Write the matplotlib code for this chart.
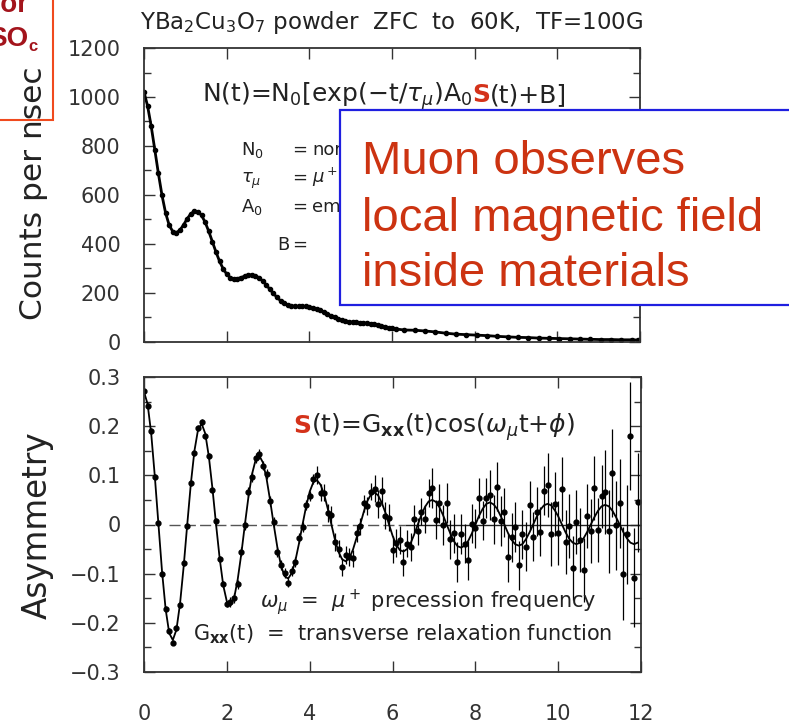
import numpy as np
import matplotlib.pyplot as plt
from matplotlib.patches import Rectangle
from matplotlib.ticker import FixedLocator, MultipleLocator
from matplotlib.transforms import IdentityTransform

# histogram bin width (µs) of both spectra
bin_width = 0.087

# top panel: counts per nsec, one value per bin up to ~6 µs
counts = [1021, 963, 881, 785, 688, 599, 527, 477,
          451, 446, 457, 478, 503, 523, 534, 532,
          517, 489, 452, 410, 368, 330, 299, 277,
          263, 258, 259, 263, 269, 274, 274, 271,
          262, 249, 233, 215, 198, 182, 168, 158,
          151, 147, 146, 145, 145, 145, 143, 140,
          136, 129, 122, 115, 107, 100, 94, 89,
          86, 83, 81, 80, 79, 78, 77, 75,
          73, 70, 66, 63, 59, 56, 53]
# coarser tail of the counts
tail_t = [6.3, 6.55, 6.8, 7.05, 7.3, 7.55, 7.8, 8.05, 8.3, 8.55, 8.8, 9.05,
          9.3, 9.55, 9.8, 10.05, 10.3, 10.55, 10.8, 11.05, 11.3, 11.55, 11.8, 11.95]
tail_counts = [49, 48, 45, 41, 36, 32, 30, 28, 26, 23, 21, 19,
               18, 16, 15, 14, 13, 12, 11, 10, 10, 9, 9, 8]

# bottom panel: asymmetry data, errors and fit
asym = [0.272, 0.242, 0.190, 0.097, 0.003, -0.101, -0.172, -0.217,
        -0.240, -0.211, -0.163, -0.079, -0.003, 0.084, 0.145, 0.197,
        0.209, 0.179, 0.139, 0.070, 0.007, -0.071, -0.121, -0.162,
        -0.158, -0.149, -0.122, -0.055, -0.002, 0.066, 0.097, 0.135,
        0.143, 0.120, 0.103, 0.047, 0.005, -0.056, -0.082, -0.098,
        -0.118, -0.095, -0.077, -0.028, -0.005, 0.039, 0.058, 0.092,
        0.101, 0.065, 0.065, 0.023, 0.020, -0.036, -0.049, -0.086,
        -0.062, -0.066, -0.069, -0.018, -0.004, 0.043, 0.037, 0.067,
        0.073, 0.042, 0.069, 0.018, 0.014, -0.051, -0.038, -0.032,
        -0.077, -0.039, -0.046, 0.011, -0.014, 0.026, 0.011, 0.064,
        0.074, 0.010, 0.043, -0.001, 0.044, -0.030, -0.018, -0.076,
        -0.019, -0.039, -0.073, 0.002, -0.008, 0.054, 0.008, 0.054,
        0.060, 0.011, 0.077, 0.007, 0.025, -0.067, -0.026, -0.005,
        -0.083, -0.020, -0.045, 0.039, -0.025, 0.026, -0.015, 0.069,
        0.081, -0.020, 0.042, -0.017, 0.072, -0.035, -0.003, -0.089,
        0.006, -0.031, -0.093, 0.017, -0.013, 0.074, -0.011, 0.057,
        0.066, -0.014, 0.105, -0.002, 0.043, -0.100, -0.020, 0.180,
        -0.108, 0.045]
asym_err = ([0.006] * 24 + [0.010] * 24 + [0.018] * 16 + [0.028] * 16 +
            [0.040] * 16 + [0.050] * 16 + [0.065] * 16 +
            [0.085, 0.085, 0.09, 0.09, 0.09, 0.095, 0.1, 0.11, 0.1, 0.1])
asym_fit = [0.270, 0.245, 0.185, 0.098, 0.000, -0.095, -0.172, -0.221,
            -0.235, -0.214, -0.161, -0.086, 0.000, 0.083, 0.150, 0.193,
            0.205, 0.185, 0.138, 0.073, 0.000, -0.069, -0.124, -0.157,
            -0.165, -0.150, -0.112, -0.060, 0.000, 0.057, 0.103, 0.132,
            0.140, 0.126, 0.094, 0.049, 0.000, -0.046, -0.083, -0.105,
            -0.110, -0.099, -0.074, -0.039, 0.000, 0.037, 0.067, 0.086,
            0.090, 0.081, 0.061, 0.032, 0.000, -0.031, -0.056, -0.071,
            -0.075, -0.068, -0.051, -0.027, 0.000, 0.026, 0.048, 0.061,
            0.065, 0.059, 0.044, 0.024, 0.000, -0.023, -0.041, -0.052,
            -0.055, -0.050, -0.038, -0.020, 0.000, 0.020, 0.036, 0.047,
            0.050, 0.046, 0.035, 0.019, 0.000, -0.018, -0.034, -0.044,
            -0.047, -0.043, -0.033, -0.018, 0.000, 0.018, 0.032, 0.042,
            0.045, 0.041, 0.032, 0.017, 0.000, -0.017, -0.031, -0.040,
            -0.043, -0.040, -0.030, -0.016, 0.000, 0.016, 0.030, 0.039,
            0.042, 0.039, 0.029, 0.016, 0.000, -0.016, -0.029, -0.037,
            -0.040, -0.037, -0.028, -0.015, 0.000, 0.015, 0.028, 0.037,
            0.040, 0.037, 0.028, 0.015, 0.000, -0.015, -0.028, -0.037,
            -0.040, -0.037]

x_ticks = [0, 2, 4, 6, 8, 10, 12]
count_ticks = [0, 200, 400, 600, 800, 1000, 1200]
asym_ticks = [-0.3, -0.2, -0.1, 0, 0.1, 0.2, 0.3]
asym_labels = ['\u22120.3', '\u22120.2', '\u22120.1', '0', '0.1', '0.2', '0.3']

t_counts = np.concatenate([np.arange(len(counts)) * bin_width, tail_t])
n_counts = np.concatenate([counts, tail_counts])
t_asym = np.arange(len(asym)) * bin_width

plt.rcParams['font.family'] = ['DejaVu Sans']
plt.rcParams['mathtext.fontset'] = 'dejavusans'

W, H = 789, 725
ink = '#222222'
red = '#d4321a'
fig = plt.figure(figsize=(W / 100, H / 100), dpi=100)


def px_axes(x0, y0, x1, y1):
    return fig.add_axes([x0 / W, 1 - y1 / H, (x1 - x0) / W, (y1 - y0) / H])


ax1 = px_axes(144, 48, 640, 342)
ax2 = px_axes(144, 377, 641, 672)

for ax in (ax1, ax2):
    ax.set_xlim(0, 12)
    ax.xaxis.set_major_locator(FixedLocator(x_ticks))
    ax.tick_params(which='both', direction='in', top=True, right=True,
                   colors='#333333', labelsize=15, width=1)
    ax.tick_params(which='major', length=8)
    ax.tick_params(which='minor', length=5)
    ax.tick_params(axis='y', pad=17)
    ax.tick_params(axis='x', pad=23)
    for s in ax.spines.values():
        s.set_linewidth(1.3)
        s.set_color('#333333')

# top: counts
ax1.plot(t_counts, n_counts, color='k', lw=2)
ax1.plot(t_counts, n_counts, 'o', ms=3, color='k')
ax1.set_ylim(0, 1200)
ax1.set_yticks(count_ticks)
ax1.yaxis.set_minor_locator(MultipleLocator(100))
ax1.tick_params(axis='x', labelbottom=False)

# bottom: asymmetry
ax2.hlines(0, 0.6, 6.3, color='#555555', lw=1, linestyles=(0, (8, 3)))
ax2.hlines(0, 6.3, 12, color=ink, lw=1)
ax2.errorbar(t_asym, asym, yerr=asym_err, fmt='o', ms=3.5, color='k',
             elinewidth=0.9, capsize=0)
ax2.plot(t_asym, asym_fit, color='k', lw=1.3)
ax2.set_ylim(-0.3, 0.3)
ax2.set_yticks(asym_ticks)
ax2.set_yticklabels(asym_labels)
ax2.yaxis.set_minor_locator(MultipleLocator(0.05))

fig.text(34 / W, 1 - 193 / H, 'Counts per nsec', rotation=90, ha='center',
         va='center', fontsize=22.5, color=ink)
fig.text(37 / W, 1 - 525 / H, 'Asymmetry', rotation=90, ha='center',
         va='center', fontsize=23.5, color=ink)
fig.text(391 / W, 1 - 22 / H,
         r'YBa$_2$Cu$_3$O$_7$ powder  ZFC  to  60K,  TF=100G',
         ha='center', va='center', fontsize=16.5, color=ink)

renderer = fig.canvas.get_renderer()


def chain_text(x, y, parts, size):
    # pieces set one after another on a common baseline (pixels from top-left)
    xp = x
    for s, color, weight in parts:
        t = fig.text(xp, H - y, s, transform=IdentityTransform(), color=color,
                     fontweight=weight, fontsize=size, va='baseline',
                     ha='left', zorder=5)
        xp = t.get_window_extent(renderer).x1


def px_text(x, y, s, size, **kw):
    fig.text(x, H - y, s, transform=IdentityTransform(), fontsize=size,
             va='baseline', zorder=5, **kw)


chain_text(202, 102, [(r'N(t)=N$_0$[exp($-$t/$\tau_\mu$)A$_0$', ink, 'normal'),
                      ('S', red, 'bold'),
                      ('(t)+B]', ink, 'normal')], 18)

# definitions, partly hidden by the blue box in the reference
defs = [(241, 155, r'N$_0$', 'nor'),
        (241, 183, r'$\tau_\mu$', r'$\mu^+$'),
        (241, 212, r'A$_0$', 'em'),
        (277, 250, 'B', '')]
for x, y, sym, rest in defs:
    px_text(x, y, sym, 13, color=ink)
    px_text(292, y, '=', 13, color=ink)
    if rest:
        px_text(312, y, rest, 13, color=ink)

chain_text(293, 433, [('S', red, 'bold'),
                      (r'(t)=G$_{\mathbf{xx}}$(t)cos($\omega_\mu$t+$\phi$)', ink, 'normal')], 18)
px_text(260, 608, r'$\omega_\mu$  =  $\mu^+$ precession frequency', 15, color=ink)
px_text(193, 640, r'G$_{\mathbf{xx}}$(t)  =  transverse relaxation function', 15, color=ink)

# overlay boxes
fig.add_artist(Rectangle((340 / W, 1 - 305 / H), 460 / W, 195 / H,
                         transform=fig.transFigure, facecolor='white',
                         edgecolor='#1f1fe0', lw=1.6, zorder=10))
for y, line in [(174, 'Muon observes'), (231, 'local magnetic field'),
                (286, 'inside materials')]:
    fig.text(362, H - y, line, transform=IdentityTransform(), fontsize=34,
             family='Liberation Sans', color='#cc3311', va='baseline',
             zorder=11)

fig.add_artist(Rectangle((-5 / W, 1 - 120 / H), 58 / W, 125 / H,
                         transform=fig.transFigure, facecolor='none',
                         edgecolor='#f04a1e', lw=1.5, zorder=10))
fig.text(29, H - 12, 'ector', transform=IdentityTransform(), fontsize=20,
         fontweight='bold', family='Liberation Sans', color='#a3141c',
         ha='right', va='baseline', zorder=11)
fig.text(28, H - 46, 'SO', transform=IdentityTransform(), fontsize=20,
         fontweight='bold', family='Liberation Sans', color='#a3141c',
         ha='right', va='baseline', zorder=11)
fig.text(28, H - 51, 'c', transform=IdentityTransform(), fontsize=12,
         fontweight='bold', family='Liberation Sans', color='#a3141c',
         ha='left', va='baseline', zorder=11)

fig.savefig('out.png', dpi=100)
